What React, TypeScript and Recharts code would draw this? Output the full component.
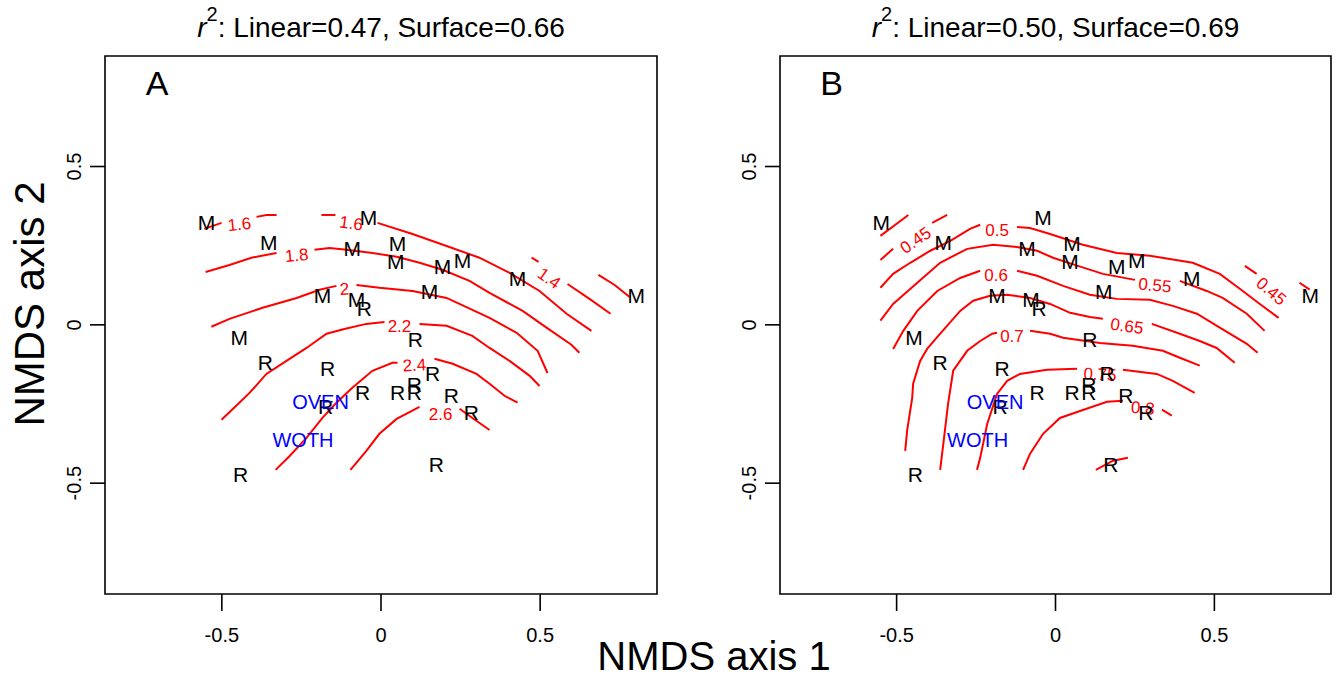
import { ScatterChart, Scatter, XAxis, YAxis, ReferenceArea } from "recharts";

const FONT = "'Liberation Sans', Arial, Helvetica, sans-serif";

const xTicks = [-0.5, 0, 0.5];
const yTicks = [-0.5, 0, 0.5];
const xDomain: [number, number] = [-0.867, 0.867];
const yDomain: [number, number] = [-0.85, 0.849];

// site scores (same ordination in both panels)
const sitesM = [
  [-0.548, 0.322], [-0.353, 0.259], [-0.039, 0.338], [-0.09, 0.24], [0.052, 0.256],
  [0.046, 0.199], [0.193, 0.183], [0.256, 0.202], [-0.184, 0.092], [-0.077, 0.079],
  [0.152, 0.107], [0.429, 0.148], [0.802, 0.092], [-0.445, -0.041],
];
const sitesR = [
  [-0.052, 0.051], [0.108, -0.047], [-0.363, -0.12], [-0.168, -0.139], [-0.058, -0.212],
  [0.052, -0.212], [0.105, -0.212], [0.105, -0.189], [0.162, -0.155], [0.221, -0.224],
  [0.284, -0.278], [-0.174, -0.259], [-0.441, -0.474], [0.174, -0.442],
];
const species = [
  { t: "OVEN", x: -0.19, y: -0.243 },
  { t: "WOTH", x: -0.245, y: -0.363 },
];

const titles = ["Linear=0.47, Surface=0.66", "Linear=0.50, Surface=0.69"];
const panelLetters = ["A", "B"];

// panel A contour pieces (ordisurf)
const a12 = [[[0.683, 0.158], [0.734, 0.126], [0.781, 0.088]]];
const a14 = [
  [[0.473, 0.212], [0.495, 0.199]],
  [[0.586, 0.129], [0.655, 0.082], [0.721, 0.035]],
];
const a16 = [
  [[-0.555, 0.303], [-0.501, 0.322]],
  [[-0.391, 0.341], [-0.36, 0.347], [-0.328, 0.347]],
  [[-0.187, 0.347], [-0.143, 0.347]],
  [[-0.011, 0.322], [0.099, 0.287], [0.206, 0.249], [0.309, 0.212], [0.404, 0.164], [0.498, 0.107], [0.583, 0.035], [0.661, -0.019]],
];
const a18 = [
  [[-0.551, 0.167], [-0.476, 0.189], [-0.407, 0.212], [-0.328, 0.227]],
  [[-0.209, 0.237], [-0.162, 0.243], [-0.108, 0.237], [-0.027, 0.227], [0.049, 0.215], [0.121, 0.196], [0.193, 0.174], [0.278, 0.139], [0.341, 0.101], [0.445, 0.044], [0.52, -0.009], [0.598, -0.063], [0.623, -0.088]],
];
const a20 = [
  [[-0.533, -0.006], [-0.476, 0.019], [-0.372, 0.054], [-0.265, 0.085], [-0.193, 0.111], [-0.14, 0.123]],
  [[-0.077, 0.126], [-0.005, 0.117], [0.099, 0.107], [0.206, 0.085], [0.341, 0.022], [0.426, -0.025], [0.492, -0.082], [0.523, -0.152]],
];
const a22 = [
  [[-0.501, -0.3], [-0.445, -0.246], [-0.413, -0.215], [-0.36, -0.155], [-0.297, -0.114], [-0.234, -0.073], [-0.171, -0.028], [-0.115, -0.013], [-0.046, 0.003], [0.011, 0.009]],
  [[0.121, 0.003], [0.206, -0.003], [0.287, -0.035], [0.341, -0.073], [0.404, -0.114], [0.467, -0.161], [0.498, -0.193]],
];
const a24 = [
  [[-0.331, -0.458], [-0.287, -0.414], [-0.234, -0.357], [-0.184, -0.294], [-0.14, -0.246], [-0.09, -0.199], [-0.027, -0.145], [0.036, -0.12], [0.052, -0.12]],
  [[0.168, -0.107], [0.225, -0.123], [0.3, -0.155], [0.341, -0.186], [0.388, -0.224], [0.429, -0.246]],
];
const a26 = [
  [[-0.096, -0.458], [-0.046, -0.398], [-0.005, -0.344], [0.049, -0.297], [0.121, -0.259]],
  [[0.247, -0.265], [0.287, -0.294], [0.341, -0.332]],
];
const labelsA = [
  { t: "1.6", x: -0.445, y: 0.319, a: -6 },
  { t: "1.6", x: -0.093, y: 0.322, a: 8 },
  { t: "1.4", x: 0.529, y: 0.148, a: 35 },
  { t: "1.8", x: -0.265, y: 0.221, a: -5 },
  { t: "2", x: -0.115, y: 0.114, a: -3 },
  { t: "2.2", x: 0.058, y: -0.003, a: 0 },
  { t: "2.4", x: 0.105, y: -0.126, a: -3 },
  { t: "2.6", x: 0.187, y: -0.281, a: 0 },
];

// panel B contour pieces
const b40 = [[[-0.551, 0.281], [-0.463, 0.347]]];
const b45 = [
  [[-0.551, 0.205], [-0.511, 0.24]],
  [[-0.388, 0.322], [-0.341, 0.347]],
  [[0.596, 0.186], [0.633, 0.161]],
  [[0.768, 0.133], [0.8, 0.111]],
];
const b50 = [
  [[-0.551, 0.117], [-0.511, 0.161], [-0.457, 0.196], [-0.394, 0.234], [-0.331, 0.265], [-0.269, 0.303], [-0.237, 0.316]],
  [[-0.121, 0.309], [-0.08, 0.306], [-0.017, 0.287], [0.086, 0.253], [0.193, 0.227], [0.297, 0.218], [0.432, 0.196], [0.517, 0.161], [0.58, 0.114], [0.643, 0.066], [0.702, 0.022]],
];
const b55 = [
  [[-0.551, 0.013], [-0.511, 0.066], [-0.435, 0.133], [-0.363, 0.196], [-0.278, 0.24], [-0.196, 0.253], [-0.121, 0.246], [-0.058, 0.234], [-0.008, 0.212], [0.068, 0.187], [0.149, 0.161], [0.25, 0.142]],
  [[0.391, 0.139], [0.476, 0.107], [0.526, 0.085], [0.602, 0.035], [0.658, -0.019]],
];
const b60 = [
  [[-0.511, -0.076], [-0.479, -0.019], [-0.435, 0.044], [-0.372, 0.107], [-0.3, 0.148], [-0.237, 0.171]],
  [[-0.121, 0.171], [-0.058, 0.155], [0.024, 0.123], [0.108, 0.095], [0.193, 0.082], [0.297, 0.079], [0.369, 0.06], [0.445, 0.035], [0.517, -0.009], [0.602, -0.06], [0.636, -0.088]],
];
const b65 = [
  [[-0.473, -0.398], [-0.467, -0.335], [-0.451, -0.231], [-0.448, -0.186], [-0.426, -0.114], [-0.404, -0.076], [-0.369, -0.035], [-0.3, 0.044], [-0.259, 0.076], [-0.206, 0.092], [-0.152, 0.095], [-0.08, 0.085], [-0.017, 0.066], [0.046, 0.038], [0.108, 0.025], [0.149, 0.019]],
  [[0.303, 0.003], [0.391, -0.028], [0.454, -0.051], [0.507, -0.073], [0.564, -0.12]],
];
const b70 = [
  [[-0.363, -0.458], [-0.353, -0.376], [-0.338, -0.249], [-0.322, -0.145], [-0.278, -0.082], [-0.237, -0.051], [-0.199, -0.028], [-0.184, -0.025]],
  [[-0.08, -0.019], [-0.017, -0.028], [0.024, -0.041], [0.14, -0.057], [0.243, -0.066], [0.338, -0.082], [0.391, -0.104], [0.454, -0.129]],
];
const b75 = [
  [[-0.247, -0.458], [-0.237, -0.42], [-0.215, -0.313], [-0.184, -0.218], [-0.152, -0.177], [-0.112, -0.155], [-0.027, -0.142], [0.068, -0.139]],
  [[0.212, -0.142], [0.319, -0.155], [0.369, -0.177], [0.438, -0.215]],
];
const b80 = [
  [[-0.102, -0.458], [-0.08, -0.407], [-0.039, -0.344], [0.014, -0.294], [0.077, -0.272], [0.162, -0.243], [0.212, -0.24]],
  [[0.335, -0.268], [0.366, -0.287]],
];
const b85 = [[[0.127, -0.458], [0.181, -0.429], [0.228, -0.42]]];
const labelsB = [
  { t: "0.45", x: -0.441, y: 0.268, a: -35 },
  { t: "0.5", x: -0.184, y: 0.3, a: 0 },
  { t: "0.55", x: 0.313, y: 0.126, a: 5 },
  { t: "0.6", x: -0.187, y: 0.158, a: 0 },
  { t: "0.65", x: 0.225, y: -0.003, a: 8 },
  { t: "0.7", x: -0.137, y: -0.035, a: 0 },
  { t: "0.75", x: 0.14, y: -0.155, a: 3 },
  { t: "0.8", x: 0.275, y: -0.262, a: 5 },
  { t: "0.45", x: 0.68, y: 0.107, a: 40 },
];

const contoursA = [a12, a14, a16, a18, a20, a22, a24, a26];
const contoursB = [b40, b45, b50, b55, b60, b65, b70, b75, b80, b85];

const toXY = (pts: number[][]) => pts.map(([x, y]) => ({ x, y }));
const noDot = () => <g />;

const XTick = ({ x, y, payload }: any) => (
  <text x={x} y={y + 31} textAnchor="middle" fontSize={20} fontFamily={FONT} fill="#000">
    {String(payload.value)}
  </text>
);

const YTick = ({ x, y, payload }: any) => (
  <text
    x={x - 9}
    y={y}
    transform={`rotate(-90 ${x - 9} ${y})`}
    textAnchor="middle"
    fontSize={20}
    fontFamily={FONT}
    fill="#000"
  >
    {String(payload.value)}
  </text>
);

const letterShape = (fill: string, size: number) => (props: any) => {
  const { cx, cy, payload } = props;
  return (
    <text x={cx} y={cy} dy="0.36em" textAnchor="middle" fontSize={size} fontFamily={FONT} fill={fill}>
      {payload.t}
    </text>
  );
};

const contourLabelShape = (props: any) => {
  const { cx, cy, payload } = props;
  return (
    <text
      x={cx}
      y={cy}
      dy="0.36em"
      textAnchor="middle"
      fontSize={17}
      fontFamily={FONT}
      fill="#ff0000"
      transform={`rotate(${payload.a} ${cx} ${cy})`}
    >
      {payload.t}
    </text>
  );
};

interface PanelProps {
  width: number;
  margin: { top: number; right: number; bottom: number; left: number };
  contours: number[][][][];
  labels: { t: string; x: number; y: number; a: number }[];
}

function Panel({ width, margin, contours, labels }: PanelProps) {
  const mData = sitesM.map(([x, y]) => ({ x, y, t: "M" }));
  const rData = sitesR.map(([x, y]) => ({ x, y, t: "R" }));
  return (
    <ScatterChart width={width} height={679} margin={margin}>
      <XAxis
        type="number"
        dataKey="x"
        domain={xDomain}
        allowDataOverflow
        ticks={xTicks}
        height={50}
        tickSize={17}
        tickMargin={0}
        axisLine={false}
        tickLine={{ stroke: "#000", strokeWidth: 1.6 }}
        tick={<XTick />}
      />
      <YAxis
        type="number"
        dataKey="y"
        domain={yDomain}
        allowDataOverflow
        ticks={yTicks}
        width={50}
        tickSize={15}
        tickMargin={0}
        axisLine={false}
        tickLine={{ stroke: "#000", strokeWidth: 1.6 }}
        tick={<YTick />}
      />
      <ReferenceArea
        x1={xDomain[0]}
        x2={xDomain[1]}
        y1={yDomain[0]}
        y2={yDomain[1]}
        fill="none"
        fillOpacity={0}
        stroke="#000"
        strokeWidth={1.6}
      />
      {contours.flatMap((level, i) =>
        level.map((seg, j) => (
          <Scatter
            key={`c${i}-${j}`}
            data={toXY(seg)}
            line={{ stroke: "#ff0000", strokeWidth: 2 }}
            shape={noDot}
            isAnimationActive={false}
          />
        ))
      )}
      <Scatter data={labels} shape={contourLabelShape} isAnimationActive={false} />
      <Scatter data={mData} shape={letterShape("#000", 21)} isAnimationActive={false} />
      <Scatter data={rData} shape={letterShape("#000", 21)} isAnimationActive={false} />
      <Scatter data={species} shape={letterShape("#0000ff", 20)} isAnimationActive={false} />
    </ScatterChart>
  );
}

export default function App() {
  const centers = [381, 1055.5];
  return (
    <div style={{ position: "absolute", left: 0, top: 0, width: 1341, height: 679, background: "#fff", fontFamily: FONT }}>
      <div style={{ position: "absolute", left: 0, top: 0 }}>
        <Panel width={670} margin={{ top: 56, right: 13, bottom: 35, left: 55 }} contours={contoursA} labels={labelsA} />
      </div>
      <div style={{ position: "absolute", left: 670, top: 0 }}>
        <Panel width={671} margin={{ top: 56, right: 10, bottom: 35, left: 60 }} contours={contoursB} labels={labelsB} />
      </div>
      <svg
        width={1341}
        height={679}
        style={{ position: "absolute", left: 0, top: 0, pointerEvents: "none" }}
        fontFamily={FONT}
      >
        {titles.map((t, i) => (
          <text key={t} x={centers[i]} y={37} textAnchor="middle" fontSize={28} fill="#000">
            <tspan fontStyle="italic">r</tspan>
            <tspan fontSize={20} dy={-16}>2</tspan>
            <tspan dy={16}>{": " + t}</tspan>
          </text>
        ))}
        {panelLetters.map((l, i) => (
          <text key={l} x={centers[i] - 224} y={95} textAnchor="middle" fontSize={34} fill="#000">
            {l}
          </text>
        ))}
        <text x={714} y={670} textAnchor="middle" fontSize={40} fill="#000">
          NMDS axis 1
        </text>
        <text x={44} y={304} transform="rotate(-90 44 304)" textAnchor="middle" fontSize={42} fill="#000">
          NMDS axis 2
        </text>
      </svg>
    </div>
  );
}
